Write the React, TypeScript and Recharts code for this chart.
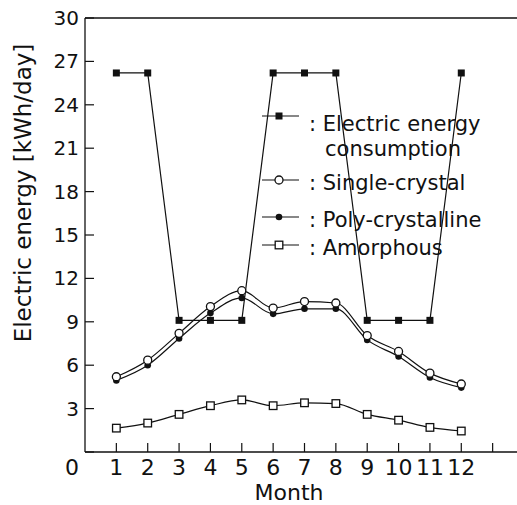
import React from 'react';
import { LineChart, Line, XAxis, YAxis, Legend } from 'recharts';

const months = [1, 2, 3, 4, 5, 6, 7, 8, 9, 10, 11, 12];
const consumption = [26.2, 26.2, 9.1, 9.1, 9.1, 26.2, 26.2, 26.2, 9.1, 9.1, 9.1, 26.2];
const singleCrystal = [5.2, 6.35, 8.2, 10.05, 11.15, 9.95, 10.4, 10.3, 8.05, 6.95, 5.45, 4.7];
const polyCrystal = [4.95, 6.0, 7.85, 9.6, 10.65, 9.55, 9.9, 9.9, 7.75, 6.6, 5.15, 4.45];
const amorphous = [1.65, 2.0, 2.6, 3.2, 3.6, 3.2, 3.4, 3.35, 2.6, 2.2, 1.7, 1.45];

const xTicks = [0, 1, 2, 3, 4, 5, 6, 7, 8, 9, 10, 11, 12, 13];
const yTicks = [0, 3, 6, 9, 12, 15, 18, 21, 24, 27, 30];

const seriesNames = [
  ['Electric energy', 'consumption'],
  ['Single-crystal'],
  ['Poly-crystalline'],
  ['Amorphous'],
];

const data = months.map((m, i) => ({
  month: m,
  consumption: consumption[i],
  single: singleCrystal[i],
  poly: polyCrystal[i],
  amorphous: amorphous[i],
}));

const INK = '#111';
const FONT = '"DejaVu Sans", sans-serif';

type Marker = 'fsquare' | 'ocircle' | 'fcircle' | 'osquare';

function drawMarker(kind: Marker, cx: number, cy: number, key?: string) {
  if (kind === 'fsquare')
    return <rect key={key} x={cx - 3.5} y={cy - 3.5} width={7} height={7} fill={INK} />;
  if (kind === 'osquare')
    return (
      <rect key={key} x={cx - 3.8} y={cy - 3.8} width={7.6} height={7.6} fill="#fff" stroke={INK} strokeWidth={1.3} />
    );
  if (kind === 'fcircle') return <circle key={key} cx={cx} cy={cy} r={3.3} fill={INK} />;
  return <circle key={key} cx={cx} cy={cy} r={4} fill="#fff" stroke={INK} strokeWidth={1.3} />;
}

const dotOf = (kind: Marker) => (p: any) => drawMarker(kind, p.cx, p.cy, `${kind}-${p.index}`);

const YTick = (p: any) => (
  <g>
    <line x1={p.x} x2={p.x + 9} y1={p.y} y2={p.y} stroke={INK} strokeWidth={1.2} />
    {p.payload.value !== 0 && (
      <text x={p.x - 6} y={p.y} dy={7} textAnchor="end" fontSize={20} fontFamily={FONT} fill={INK}>
        {p.payload.value}
      </text>
    )}
  </g>
);

const XTick = (p: any) => {
  const v = p.payload.value;
  if (v === 0)
    return (
      <text x={p.x - 13} y={p.y + 23} textAnchor="middle" fontSize={22} fontFamily={FONT} fill={INK}>
        0
      </text>
    );
  return (
    <g>
      <line x1={p.x} x2={p.x} y1={p.y} y2={p.y - 9} stroke={INK} strokeWidth={1.2} />
      {v <= 12 && (
        <text x={p.x} y={p.y + 23} textAnchor="middle" fontSize={22} fontFamily={FONT} fill={INK}>
          {v}
        </text>
      )}
    </g>
  );
};

const markers: Marker[] = ['fsquare', 'ocircle', 'fcircle', 'osquare'];

function LegendBox() {
  // row text baselines and symbol heights
  const rows = [
    { base: 131, sym: 116 },
    { base: 190, sym: 180 },
    { base: 227, sym: 217 },
    { base: 255, sym: 245 },
  ];
  return (
    <svg width={517} height={505} style={{ position: 'absolute', left: 0, top: 0, overflow: 'visible' }}>
      {seriesNames.map((names, i) => (
        <g key={i}>
          <line x1={262} x2={299} y1={rows[i].sym} y2={rows[i].sym} stroke={INK} strokeWidth={1.2} />
          {drawMarker(markers[i], 279, rows[i].sym)}
          <text x={309} y={rows[i].base} fontSize={21} fontFamily={FONT} fill={INK}>
            {': ' + names[0]}
          </text>
          {names[1] && (
            <text x={325} y={rows[i].base + 25} fontSize={21} fontFamily={FONT} fill={INK}>
              {names[1]}
            </text>
          )}
        </g>
      ))}
    </svg>
  );
}

export default function App() {
  return (
    <div style={{ position: 'absolute', left: 0, top: 0, width: 517, height: 505, overflow: 'hidden', background: '#fff' }}>
      <LineChart width={540} height={505} data={data} margin={{ top: 18, right: 16, left: 0, bottom: 0 }}>
        <XAxis
          dataKey="month"
          type="number"
          domain={[0, 14]}
          ticks={xTicks}
          interval={0}
          height={53}
          tickSize={0}
          tickMargin={0}
          tickLine={false}
          tick={<XTick />}
          axisLine={{ stroke: INK, strokeWidth: 1.3 }}
          label={{
            value: 'Month',
            content: () => (
              <text x={289} y={500} textAnchor="middle" fontSize={22} fontFamily={FONT} fill={INK}>
                Month
              </text>
            ),
          }}
        />
        <XAxis
          xAxisId="top"
          dataKey="month"
          type="number"
          orientation="top"
          mirror
          domain={[0, 14]}
          ticks={xTicks.slice(1)}
          interval={0}
          tick={false}
          tickSize={8}
          tickLine={{ stroke: INK, strokeWidth: 1.2 }}
          axisLine={{ stroke: INK, strokeWidth: 1.3 }}
        />
        <YAxis
          domain={[0, 30]}
          ticks={yTicks}
          interval={0}
          width={85}
          tickSize={0}
          tickMargin={0}
          tickLine={false}
          tick={<YTick />}
          axisLine={{ stroke: INK, strokeWidth: 1.3 }}
          label={{
            value: 'Electric energy [kWh/day]',
            content: () => (
              <text
                x={31}
                y={193}
                transform="rotate(-90 31 193)"
                textAnchor="middle"
                fontSize={23}
                fontFamily={FONT}
                fill={INK}
              >
                Electric energy [kWh/day]
              </text>
            ),
          }}
        />
        <YAxis
          yAxisId="right"
          orientation="right"
          mirror
          domain={[0, 30]}
          ticks={yTicks}
          interval={0}
          tick={false}
          tickSize={10}
          tickLine={{ stroke: INK, strokeWidth: 1.2 }}
          axisLine={{ stroke: INK, strokeWidth: 1.3 }}
        />
        <Legend layout="vertical" align="center" verticalAlign="middle" content={() => <LegendBox />} wrapperStyle={{ position: 'absolute', left: 0, top: 0, width: 517, height: 505 }} />
        <Line type="linear" dataKey="consumption" stroke={INK} strokeWidth={1.2} dot={dotOf('fsquare')} isAnimationActive={false} />
        <Line type="monotone" dataKey="amorphous" stroke={INK} strokeWidth={1.2} dot={dotOf('osquare')} isAnimationActive={false} />
        <Line type="monotone" dataKey="poly" stroke={INK} strokeWidth={1.2} dot={dotOf('fcircle')} isAnimationActive={false} />
        <Line type="monotone" dataKey="single" stroke={INK} strokeWidth={1.2} dot={dotOf('ocircle')} isAnimationActive={false} />
      </LineChart>
    </div>
  );
}
